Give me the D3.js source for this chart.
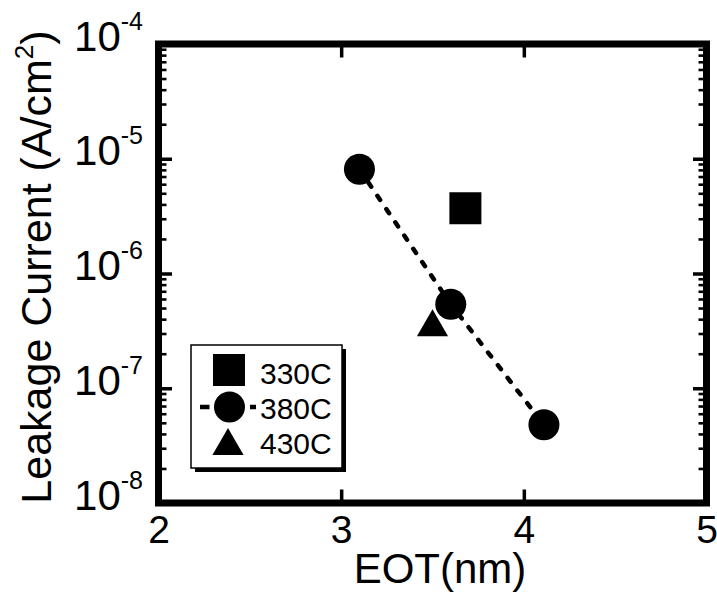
<!DOCTYPE html>
<html>
<head>
<meta charset="utf-8">
<script src="https://cdn.jsdelivr.net/npm/d3@7"></script>
<style>
  body { margin: 0; background: #fff; }
  svg { display: block; }
  text { font-family: "Liberation Sans", Arial, Helvetica, sans-serif; fill: #000; }
</style>
</head>
<body>
<svg id="chart" width="717" height="596"></svg>
<script>
// Leakage current vs. EOT for three deposition temperatures
const eot330 = [3.68];
const leak330 = [3.7e-6];
const eot380 = [3.10, 3.60, 4.11];
const leak380 = [8.1e-6, 5.4e-7, 4.8e-8];
const eot430 = [3.50];
const leak430 = [3.4e-7];

const xTickValues = [2, 3, 4, 5];
const yDecades = [1e-4, 1e-5, 1e-6, 1e-7, 1e-8];
const legendLabels = ["330C", "380C", "430C"];
const xTitle = "EOT(nm)";
const yTitle = "Leakage Current (A/cm";

const box = { left: 158.5, right: 706.5, top: 44, bottom: 503 };
const svg = d3.select("#chart");

const x = d3.scaleLinear().domain([2, 5]).range([box.left, box.right]);
const y = d3.scaleLog().domain([1e-8, 1e-4]).range([box.bottom, box.top]);

// minor log ticks (2..9 in every decade)
const yMinor = [];
for (let e = -8; e < -4; e++) for (let k = 2; k <= 9; k++) yMinor.push(k * Math.pow(10, e));

const noDomain = g => g.select(".domain").remove();

// minor ticks, left and right, drawn inward
svg.append("g").attr("transform", `translate(${box.left},0)`)
  .call(d3.axisLeft(y).tickValues(yMinor).tickSize(-8).tickFormat(""))
  .call(noDomain).selectAll("line").attr("stroke", "#000").attr("stroke-width", 2.6);
svg.append("g").attr("transform", `translate(${box.right},0)`)
  .call(d3.axisRight(y).tickValues(yMinor).tickSize(-8).tickFormat(""))
  .call(noDomain).selectAll("line").attr("stroke", "#000").attr("stroke-width", 2.6);

// major decade ticks with 10^n labels
const yMajor = svg.append("g").attr("transform", `translate(${box.left},0)`)
  .call(d3.axisLeft(y).tickValues(yDecades).tickSize(-13.5).tickPadding(15.5))
  .call(noDomain);
yMajor.selectAll("line").attr("stroke", "#000").attr("stroke-width", 3.5);
yMajor.selectAll("text").each(function (d) {
  const t = d3.select(this).text(null)
    .attr("dy", null).attr("y", 6)
    .attr("font-size", 42).attr("font-family", null);
  t.append("tspan").text("10");
  t.append("tspan").attr("font-size", 25).attr("dy", -21).text(String(Math.round(Math.log10(d))));
});
svg.append("g").attr("transform", `translate(${box.right},0)`)
  .call(d3.axisRight(y).tickValues(yDecades).tickSize(-13.5).tickFormat(""))
  .call(noDomain).selectAll("line").attr("stroke", "#000").attr("stroke-width", 3.5);

// x axis
const xAxis = svg.append("g").attr("transform", `translate(0,${box.bottom})`)
  .call(d3.axisBottom(x).tickValues(xTickValues).tickSize(-13.5).tickFormat(d3.format("d")))
  .call(noDomain);
xAxis.selectAll("line").attr("stroke", "#000").attr("stroke-width", 3.5);
xAxis.selectAll("text").attr("y", 40).attr("dy", null)
  .attr("font-size", 39).attr("font-family", null);
svg.append("g").attr("transform", `translate(0,${box.top})`)
  .call(d3.axisTop(x).tickValues([3, 4]).tickSize(-13.5).tickFormat(""))
  .call(noDomain).selectAll("line").attr("stroke", "#000").attr("stroke-width", 3.5);

// plot frame
svg.append("rect")
  .attr("x", box.left).attr("y", box.top)
  .attr("width", box.right - box.left).attr("height", box.bottom - box.top)
  .attr("fill", "none").attr("stroke", "#000").attr("stroke-width", 7);

// axis titles
svg.append("text").attr("x", 440).attr("y", 583)
  .attr("text-anchor", "middle").attr("font-size", 42).text(xTitle);
const yt = svg.append("text").attr("transform", "translate(51,267) rotate(-90)")
  .attr("text-anchor", "middle").attr("font-size", 43);
yt.append("tspan").text(yTitle);
yt.append("tspan").attr("font-size", 26).attr("dy", -18).text("2");
yt.append("tspan").attr("dy", 18).text(")");

// data
const pts = (xs, ys) => xs.map((v, i) => ({ eot: v, leak: ys[i] }));
const d330 = pts(eot330, leak330);
const d380 = pts(eot380, leak380);
const d430 = pts(eot430, leak430);

const squareSym = d3.symbol(d3.symbolSquare, 1024);
const triSym = d3.symbol(d3.symbolTriangle, 420);
const circleR = 15.5;

svg.append("path")
  .datum(d380)
  .attr("d", d3.line().x(d => x(d.eot)).y(d => y(d.leak)))
  .attr("fill", "none").attr("stroke", "#000").attr("stroke-width", 4.5)
  .attr("stroke-dasharray", "5,11").attr("stroke-linecap", "round");

svg.selectAll(".c380").data(d380).join("circle")
  .attr("cx", d => x(d.eot)).attr("cy", d => y(d.leak)).attr("r", circleR).attr("fill", "#000");
svg.selectAll(".s330").data(d330).join("path")
  .attr("transform", d => `translate(${x(d.eot)},${y(d.leak)})`).attr("d", squareSym).attr("fill", "#000");
svg.selectAll(".t430").data(d430).join("path")
  .attr("transform", d => `translate(${x(d.eot)},${y(d.leak)})`).attr("d", triSym).attr("fill", "#000");

// legend
const lg = svg.append("g");
lg.append("rect").attr("x", 195).attr("y", 349).attr("width", 151).attr("height", 123).attr("fill", "#000");
lg.append("rect").attr("x", 191).attr("y", 345).attr("width", 151).attr("height", 123)
  .attr("fill", "#fff").attr("stroke", "#000").attr("stroke-width", 1.5);
lg.append("path").attr("transform", "translate(229,370)").attr("d", squareSym).attr("fill", "#000");
lg.append("line").attr("x1", 200).attr("x2", 209.5).attr("y1", 407).attr("y2", 407)
  .attr("stroke", "#000").attr("stroke-width", 4.5);
lg.append("line").attr("x1", 250).attr("x2", 256).attr("y1", 407).attr("y2", 407)
  .attr("stroke", "#000").attr("stroke-width", 4.5);
lg.append("circle").attr("cx", 229.5).attr("cy", 407).attr("r", circleR).attr("fill", "#000");
lg.append("path").attr("transform", "translate(228,446)").attr("d", triSym).attr("fill", "#000");
lg.selectAll(".lt").data(legendLabels).join("text")
  .attr("x", 260).attr("y", (d, i) => [384, 419, 454][i])
  .attr("font-size", 30).text(d => d);
</script>
</body>
</html>
